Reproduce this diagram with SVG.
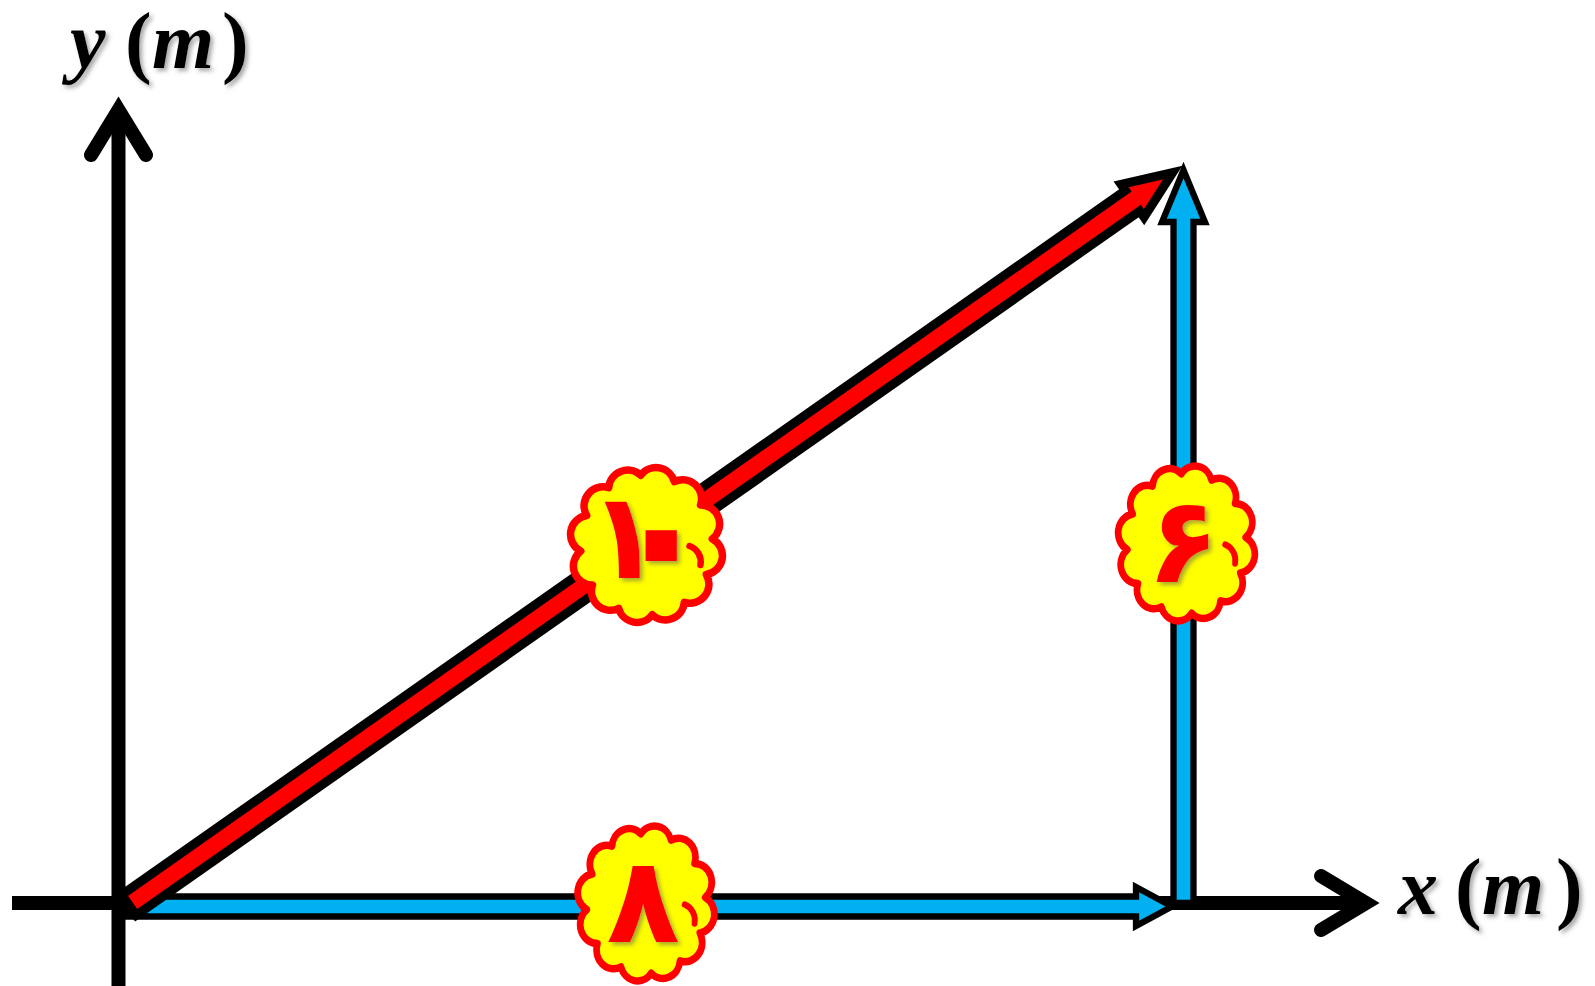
<svg xmlns="http://www.w3.org/2000/svg" width="1595" height="986" viewBox="0 0 1595 986">
<defs>
<style>
.axis{fill:none;stroke:#000;stroke-width:14}
.head{fill:none;stroke:#000;stroke-width:14;stroke-linecap:round;stroke-linejoin:miter}
.blue{fill:#00B0F0;stroke:#000;stroke-width:6.3;stroke-linejoin:miter}
.red{fill:#FF0000;stroke:#000;stroke-width:9;stroke-linejoin:miter}
.cloud{fill:#FFFF00;stroke:#FF0000;stroke-width:7.5;stroke-linejoin:round}
.inner{fill:none;stroke:#FF0000;stroke-width:6.5;stroke-linecap:round}
.lbl{font-family:"Liberation Serif",serif;font-weight:bold;font-style:italic;font-size:80px;fill:#000}
.up{font-style:normal}
.dig{font-family:"DejaVu Sans",sans-serif;font-weight:bold;font-size:120px;fill:#FF0000}
</style>
<filter id="sh" x="-20%" y="-20%" width="140%" height="140%">
<feDropShadow dx="3" dy="3" stdDeviation="2" flood-color="#555" flood-opacity="0.5"/>
</filter>
<path id="cl" d="M -5.8 -69.7 A 19 19 0 0 1 27.8 -63.4 A 19 19 0 0 1 54 -40.1 A 19 19 0 0 1 65.8 -6.1 A 19 19 0 0 1 59.8 29.5 A 19 19 0 0 1 37.8 57.3 A 19 19 0 0 1 5.8 69.7 A 19 19 0 0 1 -27.8 63.4 A 19 19 0 0 1 -54 40.1 A 19 19 0 0 1 -65.8 6.1 A 19 19 0 0 1 -59.8 -29.5 A 19 19 0 0 1 -37.8 -57.3 A 19 19 0 0 1 -5.8 -69.7 Z"/>
</defs>
<rect width="1595" height="986" fill="#fff"/>

<g id="axes">
<line class="axis" x1="118.5" y1="986" x2="118.5" y2="110"/>
<polyline class="head" points="91,155 118.5,110 146,155"/>
<line class="axis" x1="12" y1="903" x2="1366" y2="903"/>
<polyline class="head" points="1321,876 1366,903 1321,930"/>
</g>

<g id="connectors">
<polygon class="blue" points="1173.5,903 1173.5,222 1162,222 1183.5,170 1205,222 1193.5,222 1193.5,903"/>
<polygon class="blue" points="128,896.5 1136,896.5 1136,887 1172,906.5 1136,926 1136,916.5 128,916.5"/>
<polygon class="red" transform="translate(129,905) rotate(-35.06)" points="0,-12.5 1226,-12.5 1226,-20 1275,0 1226,20 1226,12.5 0,12.5"/>
</g>

<g id="label-y">
<text class="lbl" filter="url(#sh)" x="70 108 125 152 222" y="68">y <tspan class="up">(</tspan>m<tspan class="up">)</tspan></text>
</g>
<g id="label-x">
<text class="lbl" filter="url(#sh)" x="1398 1436 1455 1482 1556" y="914">x <tspan class="up">(</tspan>m<tspan class="up">)</tspan></text>
</g>

<g id="node-10">
<g transform="translate(646.5,545)">
<use href="#cl" class="cloud"/>
<path class="inner" d="M 43 1 A 17 17 0 0 1 54 20"/>
</g>
<text class="dig" filter="url(#sh)" x="588" y="578">۱<tspan font-size="180" dx="-55" dy="18">۰</tspan></text>
</g>

<g id="node-6">
<g transform="translate(1186.5,543.5) scale(0.9,1)">
<use href="#cl" class="cloud"/>
<path class="inner" d="M 43 1 A 17 17 0 0 1 54 20"/>
</g>
<text class="dig" filter="url(#sh)" x="1183" y="582" text-anchor="middle">۶</text>
</g>

<g id="node-8">
<g transform="translate(646,903.5) scale(0.9,1)">
<use href="#cl" class="cloud"/>
<path class="inner" d="M 43 1 A 17 17 0 0 1 54 20"/>
</g>
<text class="dig" filter="url(#sh)" x="643" y="942" text-anchor="middle">۸</text>
</g>
</svg>
